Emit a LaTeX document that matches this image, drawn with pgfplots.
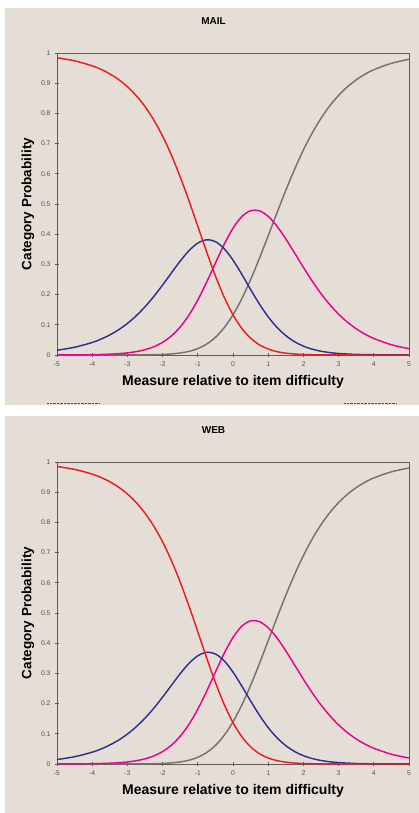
\documentclass[border=0pt]{standalone}
\usepackage{pgfplots}
\usepackage{pgfplotstable}
\pgfplotsset{compat=1.18}
\usepackage{fontspec}
\setmainfont{Liberation Sans}
\definecolor{bg}{RGB}{229,222,214}
\definecolor{axgray}{RGB}{96,92,90}
\definecolor{labgray}{RGB}{80,80,80}
\definecolor{cred}{RGB}{237,28,36}
\definecolor{cblue}{RGB}{46,49,146}
\definecolor{cmag}{RGB}{236,0,140}
\definecolor{cgray}{RGB}{120,113,108}

\pgfplotstableread{
x p0 p1 p2 p3
-5 0.9842 0.0157 0.0001 0.0000
-4.5 0.9741 0.0256 0.0004 0.0000
-4 0.9575 0.0414 0.0010 0.0000
-3.75 0.9458 0.0526 0.0017 0.0000
-3.5 0.9309 0.0664 0.0027 0.0000
-3.25 0.9120 0.0836 0.0043 0.0001
-3 0.8884 0.1045 0.0070 0.0001
-2.75 0.8589 0.1298 0.0111 0.0002
-2.5 0.8225 0.1596 0.0175 0.0005
-2.25 0.7780 0.1938 0.0273 0.0009
-2 0.7246 0.2317 0.0419 0.0018
-1.75 0.6617 0.2717 0.0631 0.0035
-1.5 0.5897 0.3110 0.0927 0.0066
-1.25 0.5103 0.3455 0.1323 0.0120
-1 0.4262 0.3705 0.1821 0.0212
-0.75 0.3417 0.3815 0.2408 0.0360
-0.5 0.2619 0.3754 0.3043 0.0584
-0.25 0.1913 0.3520 0.3664 0.0904
0 0.1330 0.3142 0.4199 0.1330
0.25 0.0880 0.2672 0.4584 0.1864
0.5 0.0557 0.2169 0.4779 0.2495
0.75 0.0337 0.1688 0.4775 0.3201
1 0.0197 0.1263 0.4590 0.3950
1.25 0.0111 0.0914 0.4264 0.4712
1.5 0.0061 0.0642 0.3844 0.5454
1.75 0.0032 0.0439 0.3376 0.6152
2 0.0017 0.0294 0.2901 0.6788
2.25 0.0009 0.0193 0.2447 0.7351
2.5 0.0004 0.0125 0.2032 0.7839
2.75 0.0002 0.0080 0.1666 0.8252
3 0.0001 0.0050 0.1352 0.8597
3.25 0.0001 0.0032 0.1087 0.8880
3.5 0.0000 0.0020 0.0869 0.9111
3.75 0.0000 0.0012 0.0691 0.9297
4 0.0000 0.0008 0.0546 0.9446
4.5 0.0000 0.0003 0.0339 0.9658
5 0.0000 0.0001 0.0208 0.9791
}\mail

\pgfplotstableread{
x p0 p1 p2 p3
-5 0.9851 0.0148 0.0001 0.0000
-4.5 0.9755 0.0241 0.0004 0.0000
-4 0.9599 0.0391 0.0010 0.0000
-3.75 0.9487 0.0497 0.0016 0.0000
-3.5 0.9346 0.0628 0.0026 0.0000
-3.25 0.9166 0.0791 0.0042 0.0001
-3 0.8940 0.0991 0.0068 0.0001
-2.75 0.8658 0.1232 0.0108 0.0002
-2.5 0.8306 0.1517 0.0172 0.0005
-2.25 0.7875 0.1847 0.0268 0.0009
-2 0.7354 0.2215 0.0413 0.0019
-1.75 0.6736 0.2605 0.0623 0.0036
-1.5 0.6022 0.2991 0.0919 0.0068
-1.25 0.5227 0.3333 0.1315 0.0125
-1 0.4378 0.3584 0.1816 0.0222
-0.75 0.3518 0.3698 0.2406 0.0378
-0.5 0.2699 0.3643 0.3043 0.0614
-0.25 0.1971 0.3416 0.3664 0.0950
0 0.1368 0.3044 0.4192 0.1396
0.25 0.0903 0.2581 0.4564 0.1951
0.5 0.0569 0.2088 0.4741 0.2602
0.75 0.0343 0.1618 0.4716 0.3323
1 0.0199 0.1205 0.4512 0.4083
1.25 0.0112 0.0868 0.4173 0.4847
1.5 0.0061 0.0607 0.3745 0.5587
1.75 0.0032 0.0414 0.3277 0.6277
2 0.0017 0.0276 0.2806 0.6901
2.25 0.0009 0.0181 0.2359 0.7451
2.5 0.0004 0.0117 0.1954 0.7925
2.75 0.0002 0.0074 0.1599 0.8325
3 0.0001 0.0047 0.1295 0.8657
3.25 0.0001 0.0029 0.1040 0.8930
3.5 0.0000 0.0018 0.0830 0.9152
3.75 0.0000 0.0011 0.0659 0.9330
4 0.0000 0.0007 0.0521 0.9472
4.5 0.0000 0.0003 0.0323 0.9675
5 0.0000 0.0001 0.0198 0.9801
}\web

\pgfplotsset{
  rasch/.style={
    scale only axis, width=352pt, height=302pt,
    anchor=south west,
    xmin=-5, xmax=5, ymin=0, ymax=1,
    xtick={-5,-4,-3,-2,-1,0,1,2,3,4,5},
    xticklabels={-5,-4,-3,-2,-1,0,1,2,3,4,5},
    ytick={0,0.1,0.2,0.3,0.4,0.5,0.6,0.7,0.8,0.9,1},
    yticklabels={0,0.1,0.2,0.3,0.4,0.5,0.6,0.7,0.8,0.9,1},
    axis line style={draw=axgray, line width=0.8pt},
    tick style={draw=axgray, line width=0.8pt},
    tick align=center, major tick length=4pt,
    xtick pos=bottom, ytick pos=left,
    ticklabel style={font=\fontsize{6.8}{7}\selectfont, text=labgray},
    xticklabel style={yshift=-1pt},
    yticklabel style={xshift=-1pt},
    xlabel={Measure relative to item difficulty},
    ylabel={Category Probability},
    xlabel style={font=\bfseries\fontsize{14}{16}\selectfont,
      at={(axis description cs:0.5,-0.0894)}, anchor=center},
    ylabel style={font=\bfseries\fontsize{13.5}{16}\selectfont,
      at={(axis description cs:-0.0824,0.5)}, anchor=center},
    title style={font=\bfseries\fontsize{10}{12}\selectfont,
      at={(axis description cs:0.4446,1.085)}, anchor=center},
    clip=false,
  },
  curve/.style={line width=1.45pt, smooth, no markers},
}

\begin{document}
\begin{tikzpicture}[x=1pt,y=1pt]
\path[use as bounding box] (0,0) rectangle (419,813);
\fill[bg] (5,408) rectangle (419,805);
\fill[bg] (5,0) rectangle (419,397);
\draw[labgray, densely dotted, line width=0.4pt] (47,409.5) -- (100,409.5);
\draw[labgray, densely dotted, line width=0.4pt] (344,409.5) -- (396,409.5);

\begin{axis}[rasch, at={(57pt,458pt)}, title={MAIL}]
\addplot[curve, cgray] table[x=x,y=p3]{\mail};
\addplot[curve, cmag] table[x=x,y=p2]{\mail};
\addplot[curve, cblue] table[x=x,y=p1]{\mail};
\addplot[curve, cred] table[x=x,y=p0]{\mail};
\end{axis}

\begin{axis}[rasch, at={(57pt,49pt)}, title={WEB}]
\addplot[curve, cgray] table[x=x,y=p3]{\web};
\addplot[curve, cmag] table[x=x,y=p2]{\web};
\addplot[curve, cblue] table[x=x,y=p1]{\web};
\addplot[curve, cred] table[x=x,y=p0]{\web};
\end{axis}
\end{tikzpicture}
\end{document}
